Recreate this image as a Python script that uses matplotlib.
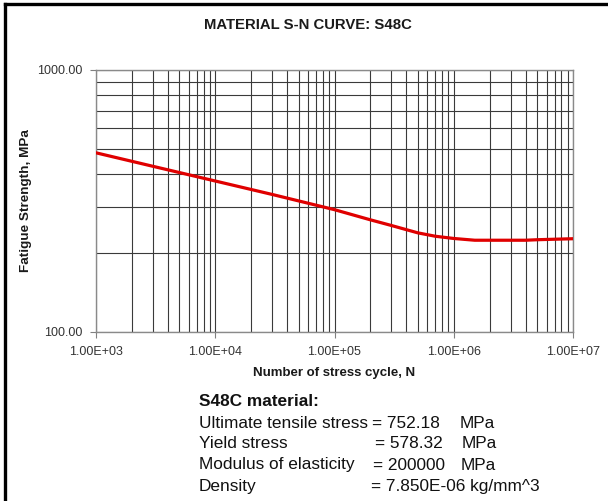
import numpy as np
import matplotlib.pyplot as plt
from matplotlib.lines import Line2D
from matplotlib.ticker import FixedLocator, NullFormatter

plt.rcParams['font.family'] = ['Liberation Sans', 'DejaVu Sans']

# S-N curve
cycles = [1e3, 3e3, 1e4, 3e4, 1e5, 2e5, 3e5, 5e5, 7e5, 1e6,
          1.5e6, 2e6, 3e6, 4e6, 5e6, 7e6, 1e7]
strength = [483, 429, 377, 335, 293, 268, 255, 239, 232, 227.5,
            224, 224, 224, 224, 225, 226, 227]

x_ticks = [1e3, 1e4, 1e5, 1e6, 1e7]
x_ticklabels = ['1.00E+03', '1.00E+04', '1.00E+05', '1.00E+06', '1.00E+07']
y_ticks = [100, 1000]
y_ticklabels = ['100.00', '1000.00']

props = ['Ultimate tensile stress', 'Yield stress', 'Modulus of elasticity', 'Density']
prop_values = ['= 752.18', '= 578.32', '= 200000', '= 7.850E-06 kg/mm^3']
prop_units = ['MPa', 'MPa', 'MPa', '']

W, H = 608, 501
fig = plt.figure(figsize=(W / 100, H / 100), dpi=100)

def fx(px):
    return px / W

def fy(py):
    return 1 - py / H

ax = fig.add_axes([fx(96), fy(332), fx(573) - fx(96), fy(70) - fy(332)])
ax.set_xscale('log')
ax.set_yscale('log')
ax.set_xlim(1e3, 1e7)
ax.set_ylim(100, 1000)

ax.plot(cycles, strength, color='#e00000', lw=2.3, zorder=3)

ax.xaxis.set_major_locator(FixedLocator(x_ticks))
ax.set_xticklabels(x_ticklabels)
ax.yaxis.set_major_locator(FixedLocator(y_ticks))
ax.set_yticklabels(y_ticklabels)
ax.xaxis.set_minor_locator(FixedLocator([m * 10**e for e in range(3, 7) for m in range(2, 10)]))
ax.yaxis.set_minor_locator(FixedLocator([m * 100 for m in range(2, 10)]))
ax.xaxis.set_minor_formatter(NullFormatter())
ax.yaxis.set_minor_formatter(NullFormatter())

ax.grid(True, which='both', color='#3a3a3a', lw=0.8)
ax.tick_params(which='major', length=4, width=0.8, color='#808080', labelsize=9,
               labelcolor='#333333', pad=6)
ax.tick_params(which='minor', length=0)
for s in ax.spines.values():
    s.set_color('#8a8a8a')
    s.set_linewidth(1.0)

fig.text(fx(308), fy(25), 'MATERIAL S-N CURVE: S48C', ha='center', va='center',
         fontsize=10.7, fontweight='bold', color='#1a1a1a')
fig.text(fx(334), fy(373), 'Number of stress cycle, N', ha='center', va='center',
         fontsize=9.5, fontweight='bold', color='#1a1a1a')
fig.text(fx(26), fy(201), 'Fatigue Strength, MPa', ha='center', va='center',
         rotation=90, fontsize=9.7, fontweight='bold', color='#1a1a1a')

fig.text(fx(199), fy(402), 'S48C material:', ha='left', va='center',
         fontsize=12.4, fontweight='bold', color='#111111')
row_y = [423, 444, 465, 486]
val_x = [372, 375, 373, 371]
unit_x = [460, 462, 461, 0]
for i in range(len(props)):
    fig.text(fx(199), fy(row_y[i]), props[i], ha='left', va='center',
             fontsize=12.4, color='#111111')
    fig.text(fx(val_x[i]), fy(row_y[i]), prop_values[i], ha='left', va='center',
             fontsize=12.4, color='#111111')
    if prop_units[i]:
        fig.text(fx(unit_x[i]), fy(row_y[i]), prop_units[i], ha='left', va='center',
                 fontsize=12.4, color='#111111')

# black frame on left and top edges
fig.add_artist(Line2D([fx(5), fx(5)], [0, fy(4)], transform=fig.transFigure,
                      color='black', lw=2.4))
fig.add_artist(Line2D([fx(5), 1], [fy(4), fy(4)], transform=fig.transFigure,
                      color='black', lw=2.4))

fig.savefig('out.png', dpi=100)
